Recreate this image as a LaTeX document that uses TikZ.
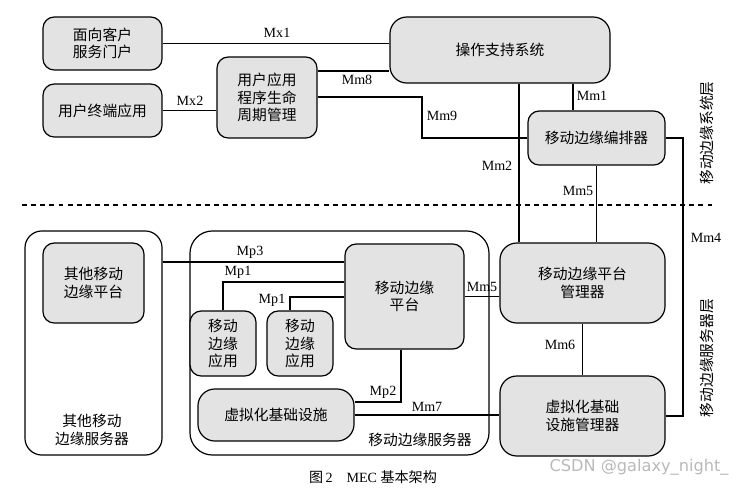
\documentclass[tikz,border=0pt]{standalone}
\usepackage{fontspec}
\setmainfont{Liberation Serif}
\newfontfamily\cjk{Noto Sans CJK SC}
\newfontfamily\wmfont{DejaVu Sans}

\tikzset{
  box/.style={draw, fill=gray!22, rounded corners=8pt, align=center, inner sep=0pt,
    font=\cjk\fontsize{10.5}{12.5}\selectfont},
  outerbox/.style={draw, rounded corners=12pt, inner sep=0pt},
  lbl/.style={font=\fontsize{10}{12}\selectfont, inner sep=0pt},
  txt/.style={font=\cjk\fontsize{10.5}{12.5}\selectfont, align=center, inner sep=0pt},
}

\begin{document}
\begin{tikzpicture}[x=0.025cm, y=-0.025cm, line width=0.85pt]
  \useasboundingbox (0,0) rectangle (744,488);
  % upper layer
  \node[box, minimum width=2.975cm, minimum height=1.325cm] (portal) at (102.5,43.5) {面向客户\\服务门户};
  \node[box, minimum width=2.975cm, minimum height=1.325cm] (ueapp) at (102.5,110.5) {用户终端应用};
  \node[box, minimum width=2.5cm, minimum height=2.025cm] (lcm) at (267,97.5) {用户应用\\程序生命\\周期管理};
  \node[box, minimum width=5.5cm, minimum height=1.65cm, rounded corners=12pt] (oss) at (500,50) {操作支持系统};
  \node[box, minimum width=3.425cm, minimum height=1.35cm] (orch) at (596.5,138) {移动边缘编排器};
  % lower layer
  \node[outerbox, minimum width=3.425cm, minimum height=5.6cm] (othersrv) at (93.5,343) {};
  \node[outerbox, minimum width=7.475cm, minimum height=5.6cm, rounded corners=16pt] (server) at (339.5,343) {};
  \node[box, minimum width=2.525cm, minimum height=2cm] (otherplat) at (93.5,283) {其他移动\\边缘平台};
  \node[box, minimum width=2.975cm, minimum height=2.625cm] (mep) at (404.5,296.5) {移动边缘\\平台};
  \node[box, minimum width=1.65cm, minimum height=1.625cm] (app1) at (223,343.5) {移动\\边缘\\应用};
  \node[box, minimum width=1.65cm, minimum height=1.625cm] (app2) at (300,343.5) {移动\\边缘\\应用};
  \node[box, minimum width=3.9cm, minimum height=1.3cm, rounded corners=12pt] (nfvi) at (276,415) {虚拟化基础设施};
  \node[box, minimum width=4.125cm, minimum height=2cm, rounded corners=12pt] (mepm) at (582.5,283) {移动边缘平台\\管理器};
  \node[box, minimum width=4.125cm, minimum height=2cm, rounded corners=12pt] (vim) at (582.5,416) {虚拟化基础\\设施管理器};
  \node[txt] (othersrvt) at (92,430) {其他移动\\边缘服务器};
  \node[txt] (servert) at (420,440) {移动边缘服务器};
  % layer separator
  \coordinate (sepl) at (22,205);
  \coordinate (sepr) at (715,205);
  \draw[dashed, line width=0.8pt, dash pattern=on 3.5pt off 3pt] (sepl) -- (sepr);
  \node[txt, rotate=90] (syslayer) at (707,133) {移动边缘系统层};
  \node[txt, rotate=90] (srvlayer) at (707,358) {移动边缘服务器层};
  % reference points
  \draw (portal.east) -- (portal.east -| oss.west);
  \draw (lcm.east |- 0,71) -- (oss.west |- 0,71);
  \draw (lcm.east |- 0,97) -- (422,97) |- (orch.west);
  \draw (ueapp.east) -- (ueapp.east -| lcm.west);
  \draw (oss.south -| 573,0) -- (orch.north -| 573,0);
  \draw (oss.south -| 519,0) -- (mepm.north -| 519,0);
  \draw (orch.south) -- (orch.south |- mepm.north);
  \draw (orch.east) -- (683,138) |- (vim.east);
  \draw (othersrv.east |- 0,262) -- (mep.west |- 0,262);
  \draw (app1.north) |- (mep.west |- 0,282);
  \draw (app2.north -| 290,0) |- (mep.west |- 0,297);
  \draw (mep.east) -- (mep.east -| mepm.west);
  \draw (mep.south -| 401,0) |- (nfvi.east |- 0,402);
  \draw (nfvi.east) -- (nfvi.east -| vim.west);
  \draw (mepm.south) -- (vim.north);
  % labels
  \node[lbl] (lmx1) at (277,33) {Mx1};
  \node[lbl] (lmm8) at (357,80) {Mm8};
  \node[lbl] (lmm9) at (442,116) {Mm9};
  \node[lbl] (lmx2) at (190,101) {Mx2};
  \node[lbl] (lmm1) at (592,96) {Mm1};
  \node[lbl] (lmm2) at (497,166) {Mm2};
  \node[lbl] (lmm5a) at (578,191) {Mm5};
  \node[lbl] (lmm4) at (706,238) {Mm4};
  \node[lbl] (lmp3) at (250,252) {Mp3};
  \node[lbl] (lmp1a) at (238,272) {Mp1};
  \node[lbl] (lmp1b) at (272,300) {Mp1};
  \node[lbl] (lmm5b) at (482,287) {Mm5};
  \node[lbl] (lmp2) at (383,392) {Mp2};
  \node[lbl] (lmm7) at (427,407) {Mm7};
  \node[lbl] (lmm6) at (560,345) {Mm6};
  % caption
  \node[font=\fontsize{10}{12}\selectfont, inner sep=0pt] (caption) at (373,477) {{\cjk 图}\,2\quad MEC {\cjk 基本架构}};
  \node[font=\wmfont\fontsize{11.5}{13}\selectfont, text=gray!55, inner sep=0pt] (mark) at (639,467) {CSDN @galaxy\_night\_};
\end{tikzpicture}
\end{document}
